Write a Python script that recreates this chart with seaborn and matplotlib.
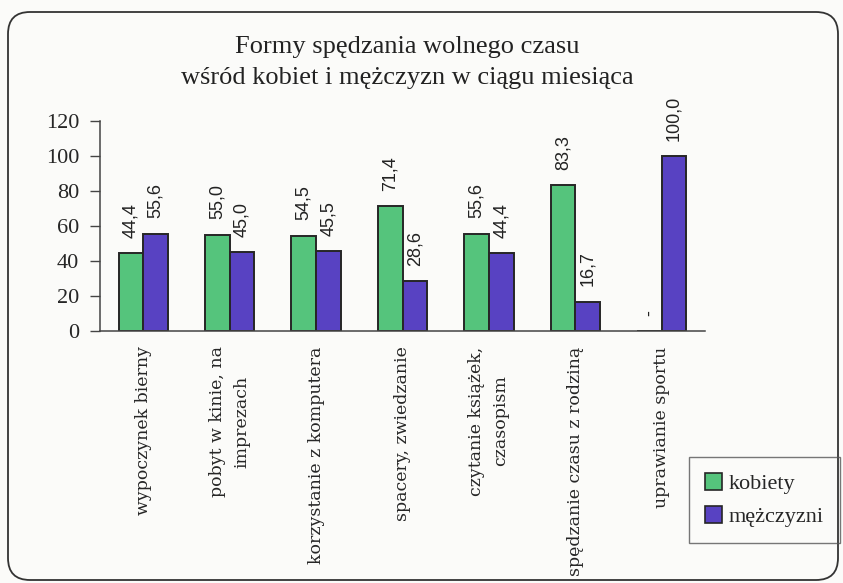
import numpy as np
import pandas as pd
import matplotlib
matplotlib.use("Agg")
import matplotlib.pyplot as plt
from matplotlib.patches import FancyBboxPatch
import seaborn as sns

# dane z wykresu
formy = ["wypoczynek bierny", "pobyt w kinie, na\nimprezach", "korzystanie z komputera",
         "spacery, zwiedzanie", "czytanie książek,\nczasopism", "spędzanie czasu z rodziną",
         "uprawianie sportu"]
kobiety = [44.4, 55.0, 54.5, 71.4, 55.6, 83.3, 0.0]
mezczyzni = [55.6, 45.0, 45.5, 28.6, 44.4, 16.7, 100.0]
plcie = ["kobiety", "mężczyzni"]
kolory = ["#55c47c", "#5842c2"]

df = pd.DataFrame({
    "forma": formy * 2,
    "procent": kobiety + mezczyzni,
    "plec": [plcie[0]] * len(formy) + [plcie[1]] * len(formy),
})

sns.set_style("white")
plt.rcParams["font.family"] = ["Liberation Serif", "DejaVu Serif"]

fig = plt.figure(figsize=(8.43, 5.83), dpi=100, facecolor="#fbfbf9")
ax = fig.add_axes([100/843, 1-331/583, 605/843, 210/583])
ax.set_facecolor("none")

sns.barplot(data=df, x="forma", y="procent", hue="plec", palette=kolory,
            width=0.57, edgecolor="#262626", linewidth=1.4, saturation=1,
            ax=ax, legend=False)

# etykiety nad slupkami
for cont in ax.containers:
    for bar in cont:
        v = bar.get_height()
        txt = "-" if v == 0 else f"{v:.1f}".replace(".", ",")
        ax.annotate(txt, (bar.get_x() + bar.get_width()/2, v), xytext=(0, 11),
                    textcoords="offset points", rotation=90, ha="center", va="bottom",
                    fontsize=13, family="Liberation Sans", color="#222")

ax.set_ylim(0, 120)
ax.set_xlim(-0.5, 6.5)
ax.set_yticks(np.arange(0, 121, 20))
ax.set_xlabel("")
ax.set_ylabel("")
ax.set_xticks(np.arange(-0.5, 7, 1), minor=True)
ax.tick_params(axis="x", which="major", length=0, pad=11)
ax.tick_params(axis="x", which="minor", direction="inout", length=9, width=1, color="#444")
ax.tick_params(axis="y", direction="out", length=7, width=1, color="#444", pad=8,
               labelsize=16, left=True)
ax.set_xticks(range(len(formy)))
ax.set_xticklabels(formy, rotation=90, fontsize=12.5, family="DejaVu Serif",
                   ha="center", va="top", ma="center", linespacing=1.55)
sns.despine(ax=ax)
for s in ["left", "bottom"]:
    ax.spines[s].set_color("#444")
    ax.spines[s].set_linewidth(1.1)

fig.text(407/843, 1-47/583, "Formy spędzania wolnego czasu", ha="center", va="center",
         fontsize=19, color="#222")
fig.text(407/843, 1-78/583, "wśród kobiet i mężczyzn w ciągu miesiąca", ha="center",
         va="center", fontsize=19, color="#222")

# ramka
fig.patches.append(FancyBboxPatch((0.08, 0.03), 8.30, 5.68,
                                  boxstyle="round,pad=0,rounding_size=0.22",
                                  transform=fig.dpi_scale_trans, fill=False,
                                  edgecolor="#333", linewidth=1.3))

handles = [plt.Rectangle((0, 0), 1, 1, facecolor=c, edgecolor="#262626", linewidth=1.2)
           for c in kolory]
leg = fig.legend(handles, plcie, loc="upper left", bbox_to_anchor=(689/843, 1-457/583),
                 fontsize=16, handlelength=0.8, handleheight=0.8, handletextpad=0.3,
                 labelspacing=0.55, borderpad=0.7, borderaxespad=0, fancybox=False,
                 frameon=True)
leg.get_frame().set_edgecolor("#555")
leg.get_frame().set_linewidth(1)
leg.get_frame().set_facecolor("none")

fig.savefig("out.png", dpi=100, facecolor=fig.get_facecolor())
